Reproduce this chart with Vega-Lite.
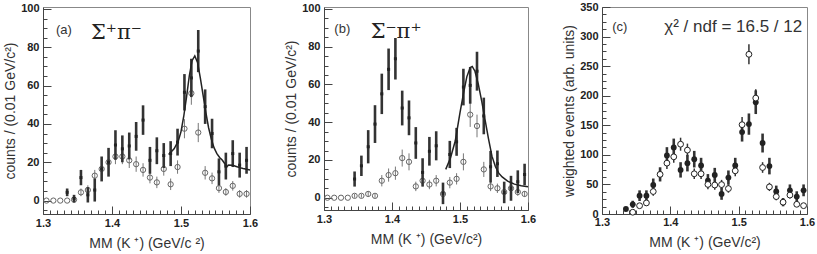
{
  "$schema": "https://vega.github.io/schema/vega-lite/v6.json",
  "background": "white",
  "padding": {"left": 3, "top": 0, "right": 0, "bottom": 0},
  "spacing": 74,
  "bounds": "flush",
  "config": {
    "view": {"stroke": "#888", "strokeWidth": 1},
    "axis": {
      "grid": false,
      "domainColor": "#444",
      "tickColor": "#444",
      "tickCount": 200,
      "labelFont": "Liberation Sans",
      "labelFontWeight": "bold",
      "labelFontSize": 11,
      "labelColor": "#222",
      "labelOverlap": false,
      "labelBound": false,
      "titleFont": "Liberation Sans",
      "titleFontWeight": "normal",
      "titleFontSize": 14,
      "titleColor": "#333"
    }
  },
  "datasets": {
    "pts": [
      {"p":"a","k":"f","x":1.335,"v":4.3,"e":2},
      {"p":"a","k":"f","x":1.345,"v":1,"e":2},
      {"p":"a","k":"f","x":1.355,"v":12,"e":4},
      {"p":"a","k":"f","x":1.365,"v":3,"e":4},
      {"p":"a","k":"f","x":1.375,"v":5.5,"e":6},
      {"p":"a","k":"f","x":1.385,"v":16.5,"e":6.5},
      {"p":"a","k":"f","x":1.395,"v":20,"e":7.5},
      {"p":"a","k":"f","x":1.405,"v":29,"e":7.7},
      {"p":"a","k":"f","x":1.415,"v":27,"e":7},
      {"p":"a","k":"f","x":1.425,"v":28.5,"e":7},
      {"p":"a","k":"f","x":1.435,"v":33.5,"e":7.5},
      {"p":"a","k":"f","x":1.445,"v":42,"e":7.7},
      {"p":"a","k":"f","x":1.455,"v":21,"e":7},
      {"p":"a","k":"f","x":1.465,"v":26,"e":7},
      {"p":"a","k":"f","x":1.475,"v":23.5,"e":6.5},
      {"p":"a","k":"f","x":1.485,"v":24.5,"e":6.5},
      {"p":"a","k":"f","x":1.495,"v":30.5,"e":7},
      {"p":"a","k":"f","x":1.505,"v":56.5,"e":9.5},
      {"p":"a","k":"f","x":1.515,"v":64,"e":10},
      {"p":"a","k":"f","x":1.525,"v":78,"e":11},
      {"p":"a","k":"f","x":1.535,"v":49,"e":9},
      {"p":"a","k":"f","x":1.545,"v":35,"e":7.7},
      {"p":"a","k":"f","x":1.555,"v":15,"e":7},
      {"p":"a","k":"f","x":1.565,"v":18,"e":7},
      {"p":"a","k":"f","x":1.575,"v":24.5,"e":7},
      {"p":"a","k":"f","x":1.585,"v":18.5,"e":6.5},
      {"p":"a","k":"f","x":1.595,"v":21,"e":7},
      {"p":"a","k":"o","x":1.305,"v":0,"e":0},
      {"p":"a","k":"o","x":1.315,"v":0,"e":0},
      {"p":"a","k":"o","x":1.325,"v":0,"e":0},
      {"p":"a","k":"o","x":1.335,"v":0,"e":0},
      {"p":"a","k":"o","x":1.345,"v":0.5,"e":1.5},
      {"p":"a","k":"o","x":1.355,"v":4.3,"e":2},
      {"p":"a","k":"o","x":1.365,"v":5.5,"e":2.5},
      {"p":"a","k":"o","x":1.375,"v":13,"e":3},
      {"p":"a","k":"o","x":1.385,"v":16.5,"e":3.5},
      {"p":"a","k":"o","x":1.395,"v":20,"e":3.5},
      {"p":"a","k":"o","x":1.405,"v":23,"e":4},
      {"p":"a","k":"o","x":1.415,"v":23,"e":4},
      {"p":"a","k":"o","x":1.425,"v":21,"e":4},
      {"p":"a","k":"o","x":1.435,"v":19,"e":4},
      {"p":"a","k":"o","x":1.445,"v":16,"e":3.5},
      {"p":"a","k":"o","x":1.455,"v":12,"e":3},
      {"p":"a","k":"o","x":1.465,"v":9.5,"e":3},
      {"p":"a","k":"o","x":1.475,"v":16.5,"e":3.5},
      {"p":"a","k":"o","x":1.485,"v":8.5,"e":3},
      {"p":"a","k":"o","x":1.495,"v":17.5,"e":3.5},
      {"p":"a","k":"o","x":1.505,"v":37.5,"e":5},
      {"p":"a","k":"o","x":1.515,"v":56,"e":6},
      {"p":"a","k":"o","x":1.525,"v":35.5,"e":5},
      {"p":"a","k":"o","x":1.535,"v":14.5,"e":3.5},
      {"p":"a","k":"o","x":1.545,"v":11.6,"e":3},
      {"p":"a","k":"o","x":1.555,"v":6.5,"e":2.5},
      {"p":"a","k":"o","x":1.565,"v":4.5,"e":2},
      {"p":"a","k":"o","x":1.575,"v":7.7,"e":2.5},
      {"p":"a","k":"o","x":1.585,"v":3.5,"e":2},
      {"p":"a","k":"o","x":1.595,"v":3.5,"e":2},
      {"p":"b","k":"f","x":1.345,"v":9.9,"e":4},
      {"p":"b","k":"f","x":1.355,"v":16.9,"e":5.4},
      {"p":"b","k":"f","x":1.365,"v":27,"e":8.8},
      {"p":"b","k":"f","x":1.375,"v":39,"e":10},
      {"p":"b","k":"f","x":1.385,"v":55,"e":10.7},
      {"p":"b","k":"f","x":1.395,"v":68,"e":11},
      {"p":"b","k":"f","x":1.405,"v":73.6,"e":11},
      {"p":"b","k":"f","x":1.415,"v":47.5,"e":9.2},
      {"p":"b","k":"f","x":1.425,"v":42.3,"e":9.2},
      {"p":"b","k":"f","x":1.435,"v":29,"e":8.4},
      {"p":"b","k":"f","x":1.445,"v":13.4,"e":7.5},
      {"p":"b","k":"f","x":1.455,"v":24.6,"e":7.6},
      {"p":"b","k":"f","x":1.465,"v":27.5,"e":7.7},
      {"p":"b","k":"f","x":1.475,"v":2.3,"e":5.7},
      {"p":"b","k":"f","x":1.485,"v":22.9,"e":7.2},
      {"p":"b","k":"f","x":1.495,"v":29.6,"e":7.4},
      {"p":"b","k":"f","x":1.505,"v":58.6,"e":9.7},
      {"p":"b","k":"f","x":1.515,"v":59.5,"e":9.7},
      {"p":"b","k":"f","x":1.525,"v":67,"e":10.3},
      {"p":"b","k":"f","x":1.535,"v":43.3,"e":9.7},
      {"p":"b","k":"f","x":1.545,"v":16.4,"e":8.4},
      {"p":"b","k":"f","x":1.555,"v":18,"e":7},
      {"p":"b","k":"f","x":1.565,"v":2.8,"e":5.7},
      {"p":"b","k":"f","x":1.575,"v":5,"e":6.6},
      {"p":"b","k":"f","x":1.585,"v":8.5,"e":6},
      {"p":"b","k":"f","x":1.595,"v":12.3,"e":5.7},
      {"p":"b","k":"o","x":1.305,"v":0,"e":0},
      {"p":"b","k":"o","x":1.315,"v":0,"e":0},
      {"p":"b","k":"o","x":1.325,"v":0,"e":0},
      {"p":"b","k":"o","x":1.335,"v":0,"e":0},
      {"p":"b","k":"o","x":1.345,"v":1,"e":1},
      {"p":"b","k":"o","x":1.355,"v":1,"e":1},
      {"p":"b","k":"o","x":1.365,"v":2,"e":1.5},
      {"p":"b","k":"o","x":1.375,"v":1,"e":1},
      {"p":"b","k":"o","x":1.385,"v":9,"e":3},
      {"p":"b","k":"o","x":1.395,"v":12,"e":3.5},
      {"p":"b","k":"o","x":1.405,"v":13,"e":3.5},
      {"p":"b","k":"o","x":1.415,"v":21,"e":4.5},
      {"p":"b","k":"o","x":1.425,"v":19,"e":4.5},
      {"p":"b","k":"o","x":1.435,"v":6,"e":2.5},
      {"p":"b","k":"o","x":1.445,"v":9,"e":3},
      {"p":"b","k":"o","x":1.455,"v":7,"e":2.5},
      {"p":"b","k":"o","x":1.465,"v":9,"e":3},
      {"p":"b","k":"o","x":1.475,"v":2,"e":1.5},
      {"p":"b","k":"o","x":1.485,"v":8,"e":3},
      {"p":"b","k":"o","x":1.495,"v":10,"e":3},
      {"p":"b","k":"o","x":1.505,"v":19,"e":4.5},
      {"p":"b","k":"o","x":1.515,"v":44,"e":6.5},
      {"p":"b","k":"o","x":1.525,"v":38,"e":6},
      {"p":"b","k":"o","x":1.535,"v":15,"e":4},
      {"p":"b","k":"o","x":1.545,"v":6,"e":2.5},
      {"p":"b","k":"o","x":1.555,"v":5,"e":2.5},
      {"p":"b","k":"o","x":1.565,"v":3,"e":2},
      {"p":"b","k":"o","x":1.575,"v":5,"e":2.5},
      {"p":"b","k":"o","x":1.585,"v":3,"e":2},
      {"p":"b","k":"o","x":1.595,"v":2,"e":1.5},
      {"p":"c","k":"f","x":1.335,"v":8.5,"e":3},
      {"p":"c","k":"f","x":1.345,"v":16.4,"e":6},
      {"p":"c","k":"f","x":1.355,"v":31,"e":9},
      {"p":"c","k":"f","x":1.365,"v":31,"e":9},
      {"p":"c","k":"f","x":1.375,"v":49,"e":11},
      {"p":"c","k":"f","x":1.385,"v":67,"e":12},
      {"p":"c","k":"f","x":1.395,"v":99,"e":14},
      {"p":"c","k":"f","x":1.405,"v":112.5,"e":15},
      {"p":"c","k":"f","x":1.415,"v":74.6,"e":13},
      {"p":"c","k":"f","x":1.425,"v":86,"e":14},
      {"p":"c","k":"f","x":1.435,"v":92.7,"e":14},
      {"p":"c","k":"f","x":1.445,"v":82,"e":13},
      {"p":"c","k":"f","x":1.455,"v":56.5,"e":11},
      {"p":"c","k":"f","x":1.465,"v":66,"e":12},
      {"p":"c","k":"f","x":1.475,"v":34,"e":10},
      {"p":"c","k":"f","x":1.485,"v":61.6,"e":12},
      {"p":"c","k":"f","x":1.495,"v":82,"e":13},
      {"p":"c","k":"f","x":1.505,"v":138.5,"e":16},
      {"p":"c","k":"f","x":1.515,"v":152,"e":18},
      {"p":"c","k":"f","x":1.525,"v":189,"e":20},
      {"p":"c","k":"f","x":1.535,"v":120,"e":16},
      {"p":"c","k":"f","x":1.545,"v":81,"e":14},
      {"p":"c","k":"f","x":1.555,"v":38,"e":10},
      {"p":"c","k":"f","x":1.565,"v":20,"e":7},
      {"p":"c","k":"f","x":1.575,"v":40,"e":10},
      {"p":"c","k":"f","x":1.585,"v":29.4,"e":9},
      {"p":"c","k":"f","x":1.595,"v":40,"e":10},
      {"p":"c","k":"o","x":1.345,"v":3,"e":2},
      {"p":"c","k":"o","x":1.355,"v":14,"e":4},
      {"p":"c","k":"o","x":1.365,"v":18.7,"e":5},
      {"p":"c","k":"o","x":1.375,"v":38,"e":7},
      {"p":"c","k":"o","x":1.385,"v":67,"e":9},
      {"p":"c","k":"o","x":1.395,"v":86,"e":10},
      {"p":"c","k":"o","x":1.405,"v":96.7,"e":10},
      {"p":"c","k":"o","x":1.415,"v":118,"e":11},
      {"p":"c","k":"o","x":1.425,"v":108,"e":11},
      {"p":"c","k":"o","x":1.435,"v":68,"e":9},
      {"p":"c","k":"o","x":1.445,"v":68,"e":9},
      {"p":"c","k":"o","x":1.455,"v":50,"e":8},
      {"p":"c","k":"o","x":1.465,"v":49,"e":8},
      {"p":"c","k":"o","x":1.475,"v":49.7,"e":8},
      {"p":"c","k":"o","x":1.485,"v":43,"e":7},
      {"p":"c","k":"o","x":1.495,"v":73,"e":9},
      {"p":"c","k":"o","x":1.505,"v":151,"e":13},
      {"p":"c","k":"o","x":1.515,"v":270,"e":17},
      {"p":"c","k":"o","x":1.525,"v":196,"e":15},
      {"p":"c","k":"o","x":1.535,"v":78.6,"e":9},
      {"p":"c","k":"o","x":1.545,"v":45.8,"e":7},
      {"p":"c","k":"o","x":1.555,"v":29.4,"e":6},
      {"p":"c","k":"o","x":1.565,"v":20,"e":5},
      {"p":"c","k":"o","x":1.575,"v":32,"e":6},
      {"p":"c","k":"o","x":1.585,"v":16.4,"e":4},
      {"p":"c","k":"o","x":1.595,"v":14.1,"e":4}
    ],
    "fit": [
      {"p":"a","x":1.482,"v":24},
      {"p":"a","x":1.490,"v":27},
      {"p":"a","x":1.496,"v":31},
      {"p":"a","x":1.500,"v":36},
      {"p":"a","x":1.504,"v":44},
      {"p":"a","x":1.508,"v":54},
      {"p":"a","x":1.512,"v":65},
      {"p":"a","x":1.516,"v":73},
      {"p":"a","x":1.520,"v":75.5},
      {"p":"a","x":1.524,"v":72},
      {"p":"a","x":1.528,"v":64},
      {"p":"a","x":1.532,"v":55},
      {"p":"a","x":1.536,"v":46},
      {"p":"a","x":1.540,"v":38},
      {"p":"a","x":1.544,"v":32},
      {"p":"a","x":1.548,"v":27.5},
      {"p":"a","x":1.552,"v":24.5},
      {"p":"a","x":1.556,"v":22.5},
      {"p":"a","x":1.560,"v":21},
      {"p":"a","x":1.563,"v":19.5},
      {"p":"a","x":1.566,"v":17.5},
      {"p":"a","x":1.569,"v":18.6},
      {"p":"a","x":1.575,"v":18.4},
      {"p":"a","x":1.580,"v":17.8},
      {"p":"a","x":1.585,"v":17.2},
      {"p":"a","x":1.590,"v":16.7},
      {"p":"a","x":1.595,"v":16.3},
      {"p":"a","x":1.600,"v":16},
      {"p":"b","x":1.479,"v":15},
      {"p":"b","x":1.486,"v":21},
      {"p":"b","x":1.493,"v":30},
      {"p":"b","x":1.500,"v":45},
      {"p":"b","x":1.505,"v":55},
      {"p":"b","x":1.510,"v":64},
      {"p":"b","x":1.515,"v":69},
      {"p":"b","x":1.518,"v":69.5},
      {"p":"b","x":1.522,"v":67},
      {"p":"b","x":1.527,"v":60},
      {"p":"b","x":1.532,"v":51},
      {"p":"b","x":1.537,"v":41},
      {"p":"b","x":1.542,"v":31},
      {"p":"b","x":1.547,"v":22},
      {"p":"b","x":1.552,"v":16.5},
      {"p":"b","x":1.557,"v":13},
      {"p":"b","x":1.562,"v":11},
      {"p":"b","x":1.570,"v":8.8},
      {"p":"b","x":1.580,"v":7.2},
      {"p":"b","x":1.590,"v":6.3},
      {"p":"b","x":1.600,"v":5.8}
    ]
  },
  "hconcat": [
    {
      "width": 207,
      "height": 207,
      "layer": [
        {
          "data": {"name": "pts"},
          "transform": [{"filter": "datum.p === 'a' && datum.k === 'o'"}],
          "mark": {"type": "errorbar", "thickness": 1, "color": "#777"},
          "encoding": {
            "x": {"field": "x", "type": "quantitative", "title": "MM (K ⁺)  (GeV/c ²)", "scale": {"domain": [1.3, 1.6], "nice": false, "zero": false},
              "axis": {"tickCount": 200, "values": [1.3,1.31,1.32,1.33,1.34,1.35,1.36,1.37,1.38,1.39,1.4,1.41,1.42,1.43,1.44,1.45,1.46,1.47,1.48,1.49,1.5,1.51,1.52,1.53,1.54,1.55,1.56,1.57,1.58,1.59,1.6],
                "labelExpr": "abs(datum.value*10 - round(datum.value*10)) < 0.001 ? format(datum.value, '.1f') : ''",
                "tickSize": {"condition": {"test": "abs(datum.value*10 - round(datum.value*10)) < 0.001", "value": -8}, "value": -4},
                "labelOverlap": false, "labelPadding": 11, "titlePadding": 4, "labelFlush": false}},
            "y": {"field": "v", "type": "quantitative", "title": "counts / (0.01 GeV/c²)", "scale": {"domain": [-7, 101], "nice": false, "zero": false},
              "axis": {"tickCount": 200, "values": [-5,0,5,10,15,20,25,30,35,40,45,50,55,60,65,70,75,80,85,90,95,100],
                "labelExpr": "datum.value % 20 === 0 ? format(datum.value, 'd') : ''",
                "tickSize": {"condition": {"test": "datum.value % 20 === 0", "value": -8}, "value": -4},
                "labelOverlap": false, "labelPadding": 12, "titlePadding": 3}},
            "yError": {"field": "e"}
          }
        },
        {
          "data": {"name": "pts"},
          "transform": [{"filter": "datum.p === 'a' && datum.k === 'o'"}],
          "mark": {"type": "point", "shape": "circle", "filled": false, "stroke": "#666", "strokeWidth": 1, "size": 28, "opacity": 1},
          "encoding": {"x": {"field": "x", "type": "quantitative", "title": "MM (K ⁺)  (GeV/c ²)"}, "y": {"field": "v", "type": "quantitative", "title": "counts / (0.01 GeV/c²)"}}
        },
        {
          "data": {"name": "pts"},
          "transform": [{"filter": "datum.p === 'a' && datum.k === 'f'"}],
          "mark": {"type": "errorbar", "thickness": 2.6, "color": "#333"},
          "encoding": {"x": {"field": "x", "type": "quantitative", "title": "MM (K ⁺)  (GeV/c ²)"}, "y": {"field": "v", "type": "quantitative", "title": "counts / (0.01 GeV/c²)"}, "yError": {"field": "e"}}
        },
        {
          "data": {"name": "pts"},
          "transform": [{"filter": "datum.p === 'a' && datum.k === 'f'"}],
          "mark": {"type": "point", "shape": "square", "filled": true, "color": "#222", "size": 9, "opacity": 1},
          "encoding": {"x": {"field": "x", "type": "quantitative", "title": "MM (K ⁺)  (GeV/c ²)"}, "y": {"field": "v", "type": "quantitative", "title": "counts / (0.01 GeV/c²)"}}
        },
        {
          "data": {"name": "fit"},
          "transform": [{"filter": "datum.p === 'a'"}],
          "mark": {"type": "line", "color": "#222", "strokeWidth": 1.5},
          "encoding": {"x": {"field": "x", "type": "quantitative", "title": "MM (K ⁺)  (GeV/c ²)"}, "y": {"field": "v", "type": "quantitative", "title": "counts / (0.01 GeV/c²)"}}
        },
        {
          "data": {"values": [{}]},
          "mark": {"type": "text", "font": "Liberation Sans", "fontSize": 13, "color": "#333", "align": "center", "baseline": "middle"},
          "encoding": {"x": {"datum": 1.3304, "title": "MM (K ⁺)  (GeV/c ²)"}, "y": {"datum": 88.9, "title": "counts / (0.01 GeV/c²)"}, "text": {"value": "(a)"}}
        },
        {
          "data": {"values": [{}]},
          "mark": {"type": "text", "font": "DejaVu Serif", "fontSize": 21, "color": "#222", "align": "left", "baseline": "alphabetic"},
          "encoding": {"x": {"datum": 1.3696, "title": "MM (K ⁺)  (GeV/c ²)"}, "y": {"datum": 84.5, "title": "counts / (0.01 GeV/c²)"}, "text": {"value": "Σ⁺π⁻"}}
        }
      ]
    },
    {
      "width": 204,
      "height": 203,
      "layer": [
        {
          "data": {"name": "pts"},
          "transform": [{"filter": "datum.p === 'b' && datum.k === 'o'"}],
          "mark": {"type": "errorbar", "thickness": 1, "color": "#777"},
          "encoding": {
            "x": {"field": "x", "type": "quantitative", "title": "MM (K ⁺)  (GeV/c²)", "scale": {"domain": [1.3, 1.6], "nice": false, "zero": false},
              "axis": {"tickCount": 200, "values": [1.3,1.31,1.32,1.33,1.34,1.35,1.36,1.37,1.38,1.39,1.4,1.41,1.42,1.43,1.44,1.45,1.46,1.47,1.48,1.49,1.5,1.51,1.52,1.53,1.54,1.55,1.56,1.57,1.58,1.59,1.6],
                "labelExpr": "abs(datum.value*10 - round(datum.value*10)) < 0.001 ? format(datum.value, '.1f') : ''",
                "tickSize": {"condition": {"test": "abs(datum.value*10 - round(datum.value*10)) < 0.001", "value": -8}, "value": -4},
                "labelOverlap": false, "labelPadding": 11, "titlePadding": 4, "labelFlush": false}},
            "y": {"field": "v", "type": "quantitative", "title": "counts / (0.01 GeV/c²)", "scale": {"domain": [-6.5, 101], "nice": false, "zero": false},
              "axis": {"tickCount": 200, "values": [-5,0,5,10,15,20,25,30,35,40,45,50,55,60,65,70,75,80,85,90,95,100],
                "labelExpr": "datum.value % 20 === 0 ? format(datum.value, 'd') : ''",
                "tickSize": {"condition": {"test": "datum.value % 20 === 0", "value": -8}, "value": -4},
                "labelOverlap": false, "labelPadding": 12, "titlePadding": 3}},
            "yError": {"field": "e"}
          }
        },
        {
          "data": {"name": "pts"},
          "transform": [{"filter": "datum.p === 'b' && datum.k === 'o'"}],
          "mark": {"type": "point", "shape": "circle", "filled": false, "stroke": "#666", "strokeWidth": 1, "size": 28, "opacity": 1},
          "encoding": {"x": {"field": "x", "type": "quantitative", "title": "MM (K ⁺)  (GeV/c²)"}, "y": {"field": "v", "type": "quantitative", "title": "counts / (0.01 GeV/c²)"}}
        },
        {
          "data": {"name": "pts"},
          "transform": [{"filter": "datum.p === 'b' && datum.k === 'f'"}],
          "mark": {"type": "errorbar", "thickness": 2.6, "color": "#333"},
          "encoding": {"x": {"field": "x", "type": "quantitative", "title": "MM (K ⁺)  (GeV/c²)"}, "y": {"field": "v", "type": "quantitative", "title": "counts / (0.01 GeV/c²)"}, "yError": {"field": "e"}}
        },
        {
          "data": {"name": "pts"},
          "transform": [{"filter": "datum.p === 'b' && datum.k === 'f'"}],
          "mark": {"type": "point", "shape": "square", "filled": true, "color": "#222", "size": 9, "opacity": 1},
          "encoding": {"x": {"field": "x", "type": "quantitative", "title": "MM (K ⁺)  (GeV/c²)"}, "y": {"field": "v", "type": "quantitative", "title": "counts / (0.01 GeV/c²)"}}
        },
        {
          "data": {"name": "fit"},
          "transform": [{"filter": "datum.p === 'b'"}],
          "mark": {"type": "line", "color": "#222", "strokeWidth": 1.5},
          "encoding": {"x": {"field": "x", "type": "quantitative", "title": "MM (K ⁺)  (GeV/c²)"}, "y": {"field": "v", "type": "quantitative", "title": "counts / (0.01 GeV/c²)"}}
        },
        {
          "data": {"values": [{}]},
          "mark": {"type": "text", "font": "Liberation Sans", "fontSize": 13, "color": "#333", "align": "center", "baseline": "middle"},
          "encoding": {"x": {"datum": 1.3269, "title": "MM (K ⁺)  (GeV/c²)"}, "y": {"datum": 89.4, "title": "counts / (0.01 GeV/c²)"}, "text": {"value": "(b)"}}
        },
        {
          "data": {"values": [{}]},
          "mark": {"type": "text", "font": "DejaVu Serif", "fontSize": 21, "color": "#222", "align": "left", "baseline": "alphabetic"},
          "encoding": {"x": {"datum": 1.3686, "title": "MM (K ⁺)  (GeV/c²)"}, "y": {"datum": 84.5, "title": "counts / (0.01 GeV/c²)"}, "text": {"value": "Σ⁻π⁺"}}
        }
      ]
    },
    {
      "width": 205,
      "height": 207,
      "layer": [
        {
          "data": {"name": "pts"},
          "transform": [{"filter": "datum.p === 'c' && datum.k === 'o'"}],
          "mark": {"type": "errorbar", "thickness": 1.5, "color": "#333"},
          "encoding": {
            "x": {"field": "x", "type": "quantitative", "title": "MM (K ⁺)  (GeV/c²)", "scale": {"domain": [1.3, 1.6], "nice": false, "zero": false},
              "axis": {"tickCount": 200, "values": [1.3,1.31,1.32,1.33,1.34,1.35,1.36,1.37,1.38,1.39,1.4,1.41,1.42,1.43,1.44,1.45,1.46,1.47,1.48,1.49,1.5,1.51,1.52,1.53,1.54,1.55,1.56,1.57,1.58,1.59,1.6],
                "labelExpr": "abs(datum.value*10 - round(datum.value*10)) < 0.001 ? format(datum.value, '.1f') : ''",
                "tickSize": {"condition": {"test": "abs(datum.value*10 - round(datum.value*10)) < 0.001", "value": -8}, "value": -4},
                "labelOverlap": false, "labelPadding": 10, "titlePadding": 4, "labelFlush": false}},
            "y": {"field": "v", "type": "quantitative", "title": "weighted events  (arb. units)", "scale": {"domain": [0, 350], "nice": false, "zero": false},
              "axis": {"tickCount": 200, "values": [0,12.5,25,37.5,50,62.5,75,87.5,100,112.5,125,137.5,150,162.5,175,187.5,200,212.5,225,237.5,250,262.5,275,287.5,300,312.5,325,337.5,350],
                "labelExpr": "datum.value % 50 === 0 ? format(datum.value, 'd') : ''",
                "tickSize": {"condition": {"test": "datum.value % 50 === 0", "value": -8}, "value": -4},
                "labelOverlap": false, "labelPadding": 12, "titlePadding": 3}},
            "yError": {"field": "e"}
          }
        },
        {
          "data": {"name": "pts"},
          "transform": [{"filter": "datum.p === 'c' && datum.k === 'f'"}],
          "mark": {"type": "errorbar", "thickness": 2.6, "color": "#333"},
          "encoding": {"x": {"field": "x", "type": "quantitative", "title": "MM (K ⁺)  (GeV/c²)"}, "y": {"field": "v", "type": "quantitative", "title": "weighted events  (arb. units)"}, "yError": {"field": "e"}}
        },
        {
          "data": {"name": "pts"},
          "transform": [{"filter": "datum.p === 'c' && datum.k === 'f'"}],
          "mark": {"type": "point", "shape": "circle", "filled": true, "color": "#222", "size": 34, "opacity": 1},
          "encoding": {"x": {"field": "x", "type": "quantitative", "title": "MM (K ⁺)  (GeV/c²)"}, "y": {"field": "v", "type": "quantitative", "title": "weighted events  (arb. units)"}}
        },
        {
          "data": {"name": "pts"},
          "transform": [{"filter": "datum.p === 'c' && datum.k === 'o'"}],
          "mark": {"type": "point", "shape": "circle", "filled": false, "fill": "white", "fillOpacity": 1, "stroke": "#222", "strokeWidth": 1, "size": 34, "opacity": 1},
          "encoding": {"x": {"field": "x", "type": "quantitative", "title": "MM (K ⁺)  (GeV/c²)"}, "y": {"field": "v", "type": "quantitative", "title": "weighted events  (arb. units)"}}
        },
        {
          "data": {"values": [{}]},
          "mark": {"type": "text", "font": "Liberation Sans", "fontSize": 13, "color": "#333", "align": "center", "baseline": "middle"},
          "encoding": {"x": {"datum": 1.326, "title": "MM (K ⁺)  (GeV/c²)"}, "y": {"datum": 317, "title": "weighted events  (arb. units)"}, "text": {"value": "(c)"}}
        },
        {
          "data": {"values": [{}]},
          "mark": {"type": "text", "font": "Liberation Sans", "fontSize": 17, "color": "#333", "align": "right", "baseline": "alphabetic"},
          "encoding": {"x": {"datum": 1.593, "title": "MM (K ⁺)  (GeV/c²)"}, "y": {"datum": 307, "title": "weighted events  (arb. units)"}, "text": {"value": "χ² / ndf =  16.5 / 12"}}
        }
      ]
    }
  ]
}
